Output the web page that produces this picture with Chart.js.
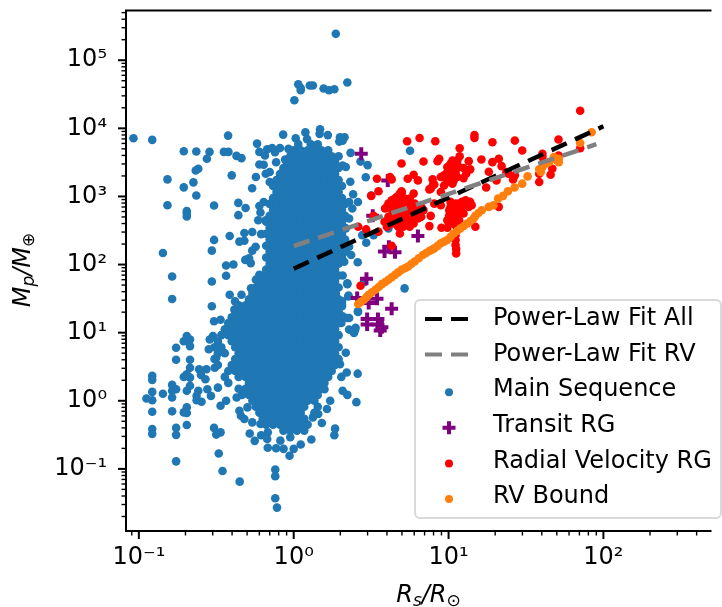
<!DOCTYPE html>
<html>
<head>
<meta charset="utf-8">
<script src="https://cdn.jsdelivr.net/npm/chart.js@4/dist/chart.umd.js"></script>
<style>
  html, body { margin: 0; padding: 0; background: #fff; }
  canvas { display: block; }
</style>
</head>
<body>
<canvas id="chart" width="722" height="607"></canvas>
<script>
// tick positions and labels
const xDecades = [0.1, 1, 10, 100];
const xTickLabels = ['10⁻¹', '10⁰', '10¹', '10²'];
const xMinor = [0.09, 0.2, 0.3, 0.4, 0.5, 0.6, 0.7, 0.8, 0.9, 2, 3, 4, 5, 6, 7, 8, 9, 20, 30, 40, 50, 60, 70, 80, 90, 200, 300, 400];
const yDecades = [0.1, 1, 10, 100, 1000, 10000, 100000];
const yTickLabels = ['10⁻¹', '10⁰', '10¹', '10²', '10³', '10⁴', '10⁵'];
const yMinor = [0.02, 0.03, 0.04, 0.05, 0.06, 0.07, 0.08, 0.09, 0.2, 0.3, 0.4, 0.5, 0.6, 0.7, 0.8, 0.9, 2, 3, 4, 5, 6, 7, 8, 9, 20, 30, 40, 50, 60, 70, 80, 90, 200, 300, 400, 500, 600, 700, 800, 900, 2000, 3000, 4000, 5000, 6000, 7000, 8000, 9000, 20000, 30000, 40000, 50000, 60000, 70000, 80000, 90000, 200000, 300000, 400000, 500000];

// fit lines
const fitAllRadius = [1, 100];
const fitAllMass = [87, 10700];
const fitRvRadius = [1, 90];
const fitRvMass = [187, 5840];

// main sequence, the solid core read row by row: one mass, then the radii along it
const msCoreMass = [5840, 4775, 3900, 3190, 2610, 2130, 1740, 1420, 1160, 951, 777, 635, 519, 424, 347, 284, 232, 189, 155, 127, 103, 84.5, 69.1, 56.4, 46.1, 37.7, 30.8, 25.2, 20.6, 16.8, 13.8, 11.2, 9.2, 7.5, 6.1, 5, 4.1, 3.35, 2.74, 2.24, 1.83, 1.5, 1.22, 1, 0.817, 0.668, 0.546, 0.446, 0.365];
const msCoreRadius = [
  [1.29,1.43],
  [1,1.11,1.23,1.36,1.51,1.67],
  [.95,1.05,1.17,1.29,1.43,1.58,1.76,1.95],
  [.903,1,1.11,1.23,1.36,1.51,1.67,1.85],
  [.858,.95,1.05,1.17,1.29,1.43,1.58,1.76,1.95],
  [.815,.903,1,1.11,1.23,1.36,1.51,1.67,1.85],
  [.774,.858,.95,1.05,1.17,1.29,1.43,1.58,1.76,1.95],
  [.736,.815,.903,1,1.11,1.23,1.36,1.51,1.67,1.85,2.05],
  [.774,.858,.95,1.05,1.17,1.29,1.43,1.58,1.76,1.95],
  [.736,.815,.903,1,1.11,1.23,1.36,1.51,1.67,1.85,2.05],
  [.699,.774,.858,.95,1.05,1.17,1.29,1.43,1.58,1.76,1.95,2.15],
  [.736,.815,.903,1,1.11,1.23,1.36,1.51,1.67,1.85,2.05],
  [.699,.774,.858,.95,1.05,1.17,1.29,1.43,1.58,1.76,1.95,2.15],
  [.664,.736,.815,.903,1,1.11,1.23,1.36,1.51,1.67,1.85,2.05],
  [.699,.774,.858,.95,1.05,1.17,1.29,1.43,1.58,1.76,1.95,2.15],
  [.664,.736,.815,.903,1,1.11,1.23,1.36,1.51,1.67,1.85,2.05],
  [.699,.774,.858,.95,1.05,1.17,1.29,1.43,1.58,1.76,1.95,2.15],
  [.664,.736,.815,.903,1,1.11,1.23,1.36,1.51,1.67,1.85,2.05],
  [.699,.774,.858,.95,1.05,1.17,1.29,1.43,1.58,1.76,1.95,2.15],
  [.664,.736,.815,.903,1,1.11,1.23,1.36,1.51,1.67,1.85,2.05],
  [.699,.774,.858,.95,1.05,1.17,1.29,1.43,1.58,1.76,1.95],
  [.664,.736,.815,.903,1,1.11,1.23,1.36,1.51,1.67,1.85],
  [.631,.699,.774,.858,.95,1.05,1.17,1.29,1.43,1.58,1.76,1.95],
  [.6,.664,.736,.815,.903,1,1.11,1.23,1.36,1.51,1.67,1.85],
  [.569,.631,.699,.774,.858,.95,1.05,1.17,1.29,1.43,1.58,1.76,1.95],
  [.541,.6,.664,.736,.815,.903,1,1.11,1.23,1.36,1.51,1.67,1.85],
  [.514,.569,.631,.699,.774,.858,.95,1.05,1.17,1.29,1.43,1.58,1.76,1.95],
  [.441,.489,.541,.6,.664,.736,.815,.903,1,1.11,1.23,1.36,1.51,1.67,1.85],
  [.419,.464,.514,.569,.631,.699,.774,.858,.95,1.05,1.17,1.29,1.43,1.58,1.76,1.95],
  [.398,.441,.489,.541,.6,.664,.736,.815,.903,1,1.11,1.23,1.36,1.51,1.67,1.85],
  [.378,.419,.464,.514,.569,.631,.699,.774,.858,.95,1.05,1.17,1.29,1.43,1.58,1.76,1.95],
  [.359,.398,.441,.489,.541,.6,.664,.736,.815,.903,1,1.11,1.23,1.36,1.51,1.67,1.85],
  [.341,.378,.419,.464,.514,.569,.631,.699,.774,.858,.95,1.05,1.17,1.29,1.43,1.58,1.76,1.95],
  [.324,.398,.441,.489,.541,.6,.664,.736,.815,.903,1,1.11,1.23,1.36,1.51,1.67,1.85],
  [.308,.341,.419,.464,.514,.569,.631,.699,.774,.858,.95,1.05,1.17,1.29,1.43,1.58,1.76,1.95],
  [.324,.359,.441,.489,.541,.6,.664,.736,.815,.903,1,1.11,1.23,1.36,1.51,1.67,1.85],
  [.308,.419,.464,.514,.569,.631,.699,.774,.858,.95,1.05,1.17,1.29,1.43,1.58,1.76,1.95],
  [.324,.398,.441,.489,.541,.6,.664,.736,.815,.903,1,1.11,1.23,1.36,1.51,1.67,1.85],
  [.378,.419,.464,.514,.569,.631,.699,.774,.858,.95,1.05,1.17,1.29,1.43,1.58,1.76],
  [.359,.441,.489,.541,.6,.664,.736,.815,.903,1,1.11,1.23,1.36,1.51,1.67],
  [.378,.514,.569,.631,.699,.774,.858,.95,1.05,1.17,1.29,1.43,1.58],
  [.441,.489,.541,.6,.664,.736,.815,.903,1,1.11,1.23,1.36,1.51],
  [.464,.514,.569,.631,.699,.774,.858,.95,1.05,1.17,1.29,1.43],
  [.541,.6,.664,.736,.815,.903,1,1.11,1.23,1.36],
  [.569,.631,.699,.774,.858,.95,1.05,1.17,1.43],
  [.6,.664,.736,.815,.903,1,1.11,1.36],
  [.631,.699,.774,.858,.95,1.05,1.17],
  [.664,.736,.815,.903,1,1.11,1.23],
  [.858,.95,1.05,1.17]
];

// main sequence, everything that can be picked out one by one [radius, mass]
const msOuter = [
  [1.87,244000],[2.22,47000],[1.27,42500],[1.33,42500],[1.07,44400],[1.11,36300],[1.11,39000],[1.56,38400],[1.69,36300],[1.83,37500],[1.01,25900],
  [.0923,7150],[.122,6760],[.377,7820],[.855,8090],[1.19,8720],[1.48,9670],[1.03,7150],[1.22,6940],[1.47,8300],[1.66,7950],[1.99,7390],[2.13,7390],[1.97,6390],[2.07,6600],
  [.58,5970],[.195,4610],[.235,4570],[.286,4510],[.354,4510],[.379,4510],[.427,3940],[.46,3650],[.275,3570],[.6,4510],[.652,3990],[.674,4930],[.725,5130],[.757,4460],[.815,5130],[.925,5000],[1.07,5900],[1.07,4220],[.88,3490],[.77,3180],
  [.6,2950],[.64,2920],[.86,2400],[.7,2280],[.66,2150],[.7,1630],[.57,1930],[.398,2040],[.242,2550],[.233,2400],[.153,1780],[.225,1610],[.195,1360],[.235,1030],[.539,1320],
  [.153,743],[.306,735],[.439,804],[.489,678],[.439,531],[.204,608],[.204,556],[.204,507],[.6,725],[.61,580],[.59,447],[.66,447],[.64,830],
  [.54,300],[.616,280],[.48,290],[.386,262],[.48,224],[.446,217],[.306,230],[.296,160],[.143,148],[.54,160],[.568,183],[.515,124],[.487,117],[.528,105],[.366,97],[.408,100],
  [2.33,4360],[2.7,3250],[3,2880],[2.07,2850],[2.17,2700],[2.92,1910],[2.32,1640],[3.16,1030],[2.42,1075],[2.6,830],[2.39,665],[2.28,830],[2.28,474],[2.17,339],[2.94,209],[3.28,270],[4.09,339],[2.77,270],[2.28,183],[2.35,138],[2.59,108],[2.12,110],[1.87,110],
  [5.64,4680],[5.2,44.7],[2.22,53],[2.26,35],[2.6,20.6],[2.05,26],[2.22,16.4],[2.51,11.8],
  [.164,66.8],[.164,31.2],[.296,56.5],[.366,68.4],[.296,24.4],[.386,36.1],[.306,14.7],[.337,15.5],[.204,8.9],[.195,7.5],[.214,7.95],[.214,6.35],[.174,6],[.174,4],[.214,4],[.214,3.06],[.204,2.45],[.195,2.24],[.214,2.19],[.214,1.66],[.204,1.4],
  [.245,2.9],[.252,2.4],[.273,2.9],[.269,2.07],[.242,1.4],[.236,1.18],[.236,1.02],[.254,.97],[.277,1.48],[.292,1.18],[.337,.845],[.366,1],[.428,1.12],
  [.122,2.32],[.122,2.03],[.122,1.35],[.122,1.02],[.112,1.08],[.143,1.27],[.164,1.71],[.164,1.4],[.164,1.12],[.174,1.48],[.204,.8],[.195,.675],[.204,.66],[.164,.7],[.122,.69],[.122,.386],[.122,.327],[.174,.4],[.174,.316],[.204,.44],[.174,.129],
  [.306,.4],[.316,.319],[.337,.344],[.328,.168],[.347,.093],[.448,.065],[.76,.098],[.76,.078],[.76,.037],[.78,.027],[.52,.33],[.56,.258],[.616,.312],[.68,.344],[.674,.275],[.68,.204],[.77,.201],[.86,.197],[.94,.156],[1,.197],[1.11,.228],[1.3,.27],[.95,.292],[.82,.26],
  [1.52,.472],[1.85,.39],[1.83,.312],[2.54,.955],[2.22,1.22],[2.07,1.4],[2.59,2.5],[2.2,2.6],[2.03,2.24],[2.17,5.07],[1.99,3.43],[1.72,1],[1.64,.757],[1.58,1.48],[1.33,.57],[1.44,.64],
  [2.28,11.1],[2.49,10.9],[2.45,9.9],[2.07,17.4],[2.28,16.4],[2.03,13.9],[2.6,20.1],[2.25,34],[2.05,28.8],[2.05,24.4],[2.22,51.6],[2.07,69],[2.84,55],[1.87,38],
  [.53,45],[.57,60],[.6,70.8],[.46,36],[.418,28.8],[.414,21.8],[.366,11.1],[.287,7.95],[.301,8.9],[.283,5.7],[.316,4.29],[.309,3.06],[.324,1.56],[.446,.714],[.456,.604],[.503,.8],[.48,.54],[.54,.482],[.61,.457]
];

// transit giants [radius, mass]
const transitRG = [[2.73,4220],[4.05,1720],[3.24,519],[6.34,262],[3.86,155],[4.12,183],[4.51,151],[2.95,61.8],[2.57,32.3],[3.05,27.2],[3.45,31.5],[4.29,22.5],[2.98,15.9],[3.5,15.9],[2.98,13.2],[3.5,13.2],[3.62,10.8],[3.71,12]];

// radial velocity giants [radius, mass]
const radialVelocityRG = [
  [70.8,18100],[14.7,8000],[14.7,7220],[6.5,7220],[5.4,6460],[8.21,6460],[19.2,6250],[26.8,6610],[11.8,5100],[29.9,4720],[51.3,6840],[70.8,5100],
  [4.97,3050],[6.89,3260],[8.7,3570],[8.49,3300],[11.8,3900],[11.4,3370],[13.5,3300],[16.3,3490],[19.2,3190],[21.1,3570],[22,2790],[10.3,3010],[10.1,2610],[10.8,2610],[9.82,2280],[10.6,2150],[11.1,2280],[12.5,2610],[13.8,2500],[13,2150],[12.5,1860],[18.2,2300],
  [3.45,1820],[4.19,1930],[4.29,1780],[5.45,1820],[5.95,2080],[6.34,1720],[7.89,1780],[9.14,1930],[10.8,1720],[10.3,1630],[9.36,1450],[7.89,1450],[7.52,1270],[8.92,1160],[3.53,1190],[3.17,1020],[4.97,1190],[5.95,1100],[17.5,1350],[20.4,1720],[24.4,2150],[26.1,1780],[23.6,2280],[26.8,2040],[38.5,2150],[38.5,1630],[45.6,2080],[46.8,2550],[40.4,4220],[40.4,3780],[51.3,3990],
  [4.09,785],[3.89,664],[4.62,984],[4.97,879],[5.35,831],[5.75,785],[4.73,743],[4.4,703],[5.09,703],[5.61,664],[6.19,703],[6.5,594],[6.04,561],[5.35,561],[4.85,594],[4.4,561],[4.09,502],[3.86,425],[4.51,449],[4.97,449],[5.61,474],[6.34,474],[6.66,502],[5.09,359],[4.85,286],[4.29,189],[3.53,303],[2.94,328],[2.61,359],[3.28,519],[7.52,367],[7.67,519],[9,347],[9.82,347],[10.1,531],[10.8,474],[10.3,425],[11.7,449],[12.5,561],[10.6,743],[11.7,785],[12.9,879],[13.8,831],[13.5,703],[10.3,703],[8.92,743],[8.09,785],[14.9,359],[21.1,703],[11.1,271],[11.1,229],[11.1,194],[11.2,169],[11.2,146],[10.1,401],[11.1,379],[2.7,48.9],
  [4.29,879],[5.35,664],[4.62,502],[5.2,449],[5.95,401],[4.19,664],[4.97,1100],[4.85,930],[6.04,630],[5.61,359],[6.34,531],[4.19,401],[4.73,425],
  [4,703],[4.29,743],[4.62,785],[5.2,929],[5.61,929],[6.04,785],[6.66,703],[4.19,502],[4.62,594],[5.09,502],[5.61,561],[6.04,474],[5.35,401],[4.73,359],[4.4,401],[4,359],[6.89,630],[4.51,929],[4.85,1100],[4.97,1160],
  [9.82,2700],[10.3,2150],[10.1,1820],[10.8,2040],[11.4,1930],[10.6,1540],[9.82,1720],[11.7,2700],[11.1,3010],[10.6,3370],[8.92,1930],[9.36,2040],[7.67,1300],[8.09,1500],
  [10.3,831],[11.1,785],[12.2,831],[10.1,628],[11.4,628],[12.2,703],[10.6,531],[11.4,531],[9.82,449],[10.8,401],[11.7,379],[14.1,743]
];

// lower envelope of the RV sample [radius, mass]
const rvBound = [
  [2.61,26.3],[2.72,28.3],[2.84,30.5],[2.95,33.2],[3.05,36.1],[3.2,39.3],[3.37,42.7],[3.54,46.9],[3.71,51.6],[3.9,55.5],[4.09,59.7],[4.3,65],[4.51,70.6],[4.73,76.8],[4.97,83.6],[5.22,88.4],[5.48,93.5],[5.75,102],[6.04,111],[6.42,124],[6.82,138],[7.16,148],[7.52,158],[7.8,165],[8.09,173],[8.5,188],[8.92,205],[9.36,217],[9.82,229],[10.3,255],[10.8,286],[11.35,311],[11.9,339],[12.55,369],[13.2,401],[13.85,436],[14.5,474],[14.9,519],[15.6,570],[16.4,628],[18.2,703],[19.5,743],[20.9,929],[22.5,1020],[24.2,1190],[26.7,1350],[29.9,1540],[32.4,1970],[38.5,2500],[39.4,2280],[40.4,2700],[42,3000],[44.5,3190],[47.9,3780],[50,3400],[51.5,3570],[51.5,3190],[70.8,6100],[84,8740]
];

const toPoints = pairs => pairs.map(p => ({ x: p[0], y: p[1] }));
const mainSequence = toPoints(msOuter);
msCoreMass.forEach((mass, i) => {
  msCoreRadius[i].forEach(radius => mainSequence.push({ x: radius, y: mass }));
});

const fontFamily = '"DejaVu Sans"';

const axisTicks = (decades, minor) => scale => {
  scale.ticks = decades.concat(minor).sort((a, b) => a - b).map(value => ({ value, major: decades.includes(value) }));
};
const tickText = (decades, labels) => value => {
  const i = decades.indexOf(value);
  return i < 0 ? '' : labels[i];
};
const noScalePadding = scale => {
  scale.paddingLeft = scale.paddingRight = scale.paddingTop = scale.paddingBottom = 0;
};

// axis frame and the two tick lengths, which Chart.js can not do by itself
const framePlugin = {
  id: 'frame',
  afterDatasetsDraw(chart) {
    const { ctx, chartArea: a, scales } = chart;
    ctx.save();
    ctx.strokeStyle = '#000';
    scales.x.ticks.forEach(t => {
      const px = scales.x.getPixelForValue(t.value);
      ctx.lineWidth = t.major ? 2 : 1.4;
      ctx.beginPath();
      ctx.moveTo(px, a.bottom);
      ctx.lineTo(px, a.bottom + (t.major ? 8 : 4.5));
      ctx.stroke();
    });
    scales.y.ticks.forEach(t => {
      const py = scales.y.getPixelForValue(t.value);
      ctx.lineWidth = t.major ? 2 : 1.4;
      ctx.beginPath();
      ctx.moveTo(a.left, py);
      ctx.lineTo(a.left - (t.major ? 8 : 4.5), py);
      ctx.stroke();
    });
    // the right side of the frame falls off the picture
    ctx.lineWidth = 2;
    ctx.beginPath();
    ctx.moveTo(a.right, a.top);
    ctx.lineTo(a.left, a.top);
    ctx.lineTo(a.left, a.bottom);
    ctx.lineTo(a.right, a.bottom);
    ctx.stroke();
    ctx.restore();
  }
};

// axis titles with subscripts
const drawPieces = (ctx, pieces, x, y) => {
  pieces.forEach(p => {
    ctx.font = p.font;
    ctx.fillText(p.text, x, y + (p.dy || 0));
    x += ctx.measureText(p.text).width;
  });
};
const piecesWidth = (ctx, pieces) => pieces.reduce((w, p) => {
  ctx.font = p.font;
  return w + ctx.measureText(p.text).width;
}, 0);
const big = `italic 24px ${fontFamily}`;
const small = `italic 17px ${fontFamily}`;
const symbol = `17px ${fontFamily}`;
const xTitle = [{ text: 'R', font: big }, { text: 's', font: small, dy: 4 }, { text: '/', font: big }, { text: 'R', font: big }, { text: '⊙', font: symbol, dy: 4 }];
const yTitle = [{ text: 'M', font: big }, { text: 'p', font: small, dy: 4 }, { text: '/', font: big }, { text: 'M', font: big }, { text: '⊕', font: symbol, dy: 4 }];

const titlePlugin = {
  id: 'mathTitles',
  afterDraw(chart) {
    const { ctx } = chart;
    ctx.save();
    ctx.fillStyle = '#000';
    ctx.textBaseline = 'alphabetic';
    ctx.textAlign = 'left';
    drawPieces(ctx, xTitle, 428.5 - piecesWidth(ctx, xTitle) / 2, 602);
    ctx.translate(30, 270);
    ctx.rotate(-Math.PI / 2);
    drawPieces(ctx, yTitle, -piecesWidth(ctx, yTitle) / 2, 0);
    ctx.restore();
  }
};

// legend: matplotlib look with dashed samples, rows come from the datasets
const legendPlugin = {
  id: 'boxLegend',
  afterDraw(chart) {
    const { ctx } = chart;
    ctx.save();
    ctx.beginPath();
    ctx.roundRect(415, 300, 306, 218, 5);
    ctx.fillStyle = 'rgba(255,255,255,0.8)';
    ctx.fill();
    ctx.lineWidth = 2;
    ctx.strokeStyle = '#d9d9d9';
    ctx.stroke();
    ctx.font = `24px ${fontFamily}`;
    ctx.textBaseline = 'middle';
    ctx.textAlign = 'left';
    chart.data.datasets.forEach((ds, i) => {
      const y = 319 + i * 35.6;
      if (ds.showLine) {
        ctx.strokeStyle = ds.borderColor;
        ctx.lineWidth = 4;
        ctx.setLineDash([17, 9]);
        ctx.beginPath();
        ctx.moveTo(425, y);
        ctx.lineTo(468, y);
        ctx.stroke();
        ctx.setLineDash([]);
      } else if (ds.pointStyle === 'cross') {
        ctx.strokeStyle = ds.pointBorderColor;
        ctx.lineWidth = ds.pointBorderWidth;
        ctx.beginPath();
        ctx.moveTo(449 - ds.pointRadius, y + 2);
        ctx.lineTo(449 + ds.pointRadius, y + 2);
        ctx.moveTo(449, y + 2 - ds.pointRadius);
        ctx.lineTo(449, y + 2 + ds.pointRadius);
        ctx.stroke();
      } else {
        ctx.fillStyle = ds.backgroundColor;
        ctx.beginPath();
        ctx.arc(449, y + 2, 4, 0, Math.PI * 2);
        ctx.fill();
      }
      ctx.fillStyle = '#000';
      ctx.fillText(ds.label, 493, y);
    });
    ctx.restore();
  }
};

const fitLine = (label, radius, mass, color, order) => ({
  label,
  data: radius.map((r, i) => ({ x: r, y: mass[i] })),
  showLine: true,
  borderColor: color,
  borderWidth: 4.5,
  borderDash: [16.6, 9.2],
  borderCapStyle: 'butt',
  pointRadius: 0,
  order
});
const dots = (label, data, color, order) => ({
  label,
  data,
  backgroundColor: color,
  pointBackgroundColor: color,
  pointBorderWidth: 0,
  pointRadius: 4.3,
  order
});

new Chart(document.getElementById('chart'), {
  type: 'scatter',
  data: {
    datasets: [
      fitLine('Power-Law Fit All', fitAllRadius, fitAllMass, '#000000', 1),
      fitLine('Power-Law Fit RV', fitRvRadius, fitRvMass, '#808080', 0),
      dots('Main Sequence', mainSequence, '#1f77b4', 5),
      {
        label: 'Transit RG',
        data: toPoints(transitRG),
        pointStyle: 'cross',
        pointBorderColor: '#800080',
        pointBorderWidth: 4,
        pointRadius: 6.5,
        order: 4
      },
      dots('Radial Velocity RG', toPoints(radialVelocityRG), '#ff0000', 3),
      dots('RV Bound', toPoints(rvBound), '#ff7f0e', 2)
    ]
  },
  options: {
    responsive: false,
    animation: false,
    devicePixelRatio: 1,
    layout: { padding: { left: 0, top: 7, right: 0, bottom: 0 } },
    plugins: { legend: { display: false }, tooltip: { enabled: false } },
    scales: {
      x: {
        type: 'logarithmic',
        min: 0.0826,
        max: 499,
        afterBuildTicks: axisTicks(xDecades, xMinor),
        afterFit: scale => { scale.height = 76; noScalePadding(scale); },
        grid: { display: false, drawTicks: false },
        border: { display: false },
        ticks: {
          autoSkip: false,
          maxRotation: 0,
          padding: 12,
          color: '#000',
          font: { family: fontFamily, size: 24 },
          callback: tickText(xDecades, xTickLabels)
        }
      },
      y: {
        type: 'logarithmic',
        min: 0.01225,
        max: 537000,
        afterBuildTicks: axisTicks(yDecades, yMinor),
        afterFit: scale => { scale.width = 126; noScalePadding(scale); },
        grid: { display: false, drawTicks: false },
        border: { display: false },
        ticks: {
          autoSkip: false,
          padding: 19,
          color: '#000',
          font: { family: fontFamily, size: 24 },
          callback: tickText(yDecades, yTickLabels)
        }
      }
    }
  },
  plugins: [framePlugin, titlePlugin, legendPlugin]
});
</script>
</body>
</html>
